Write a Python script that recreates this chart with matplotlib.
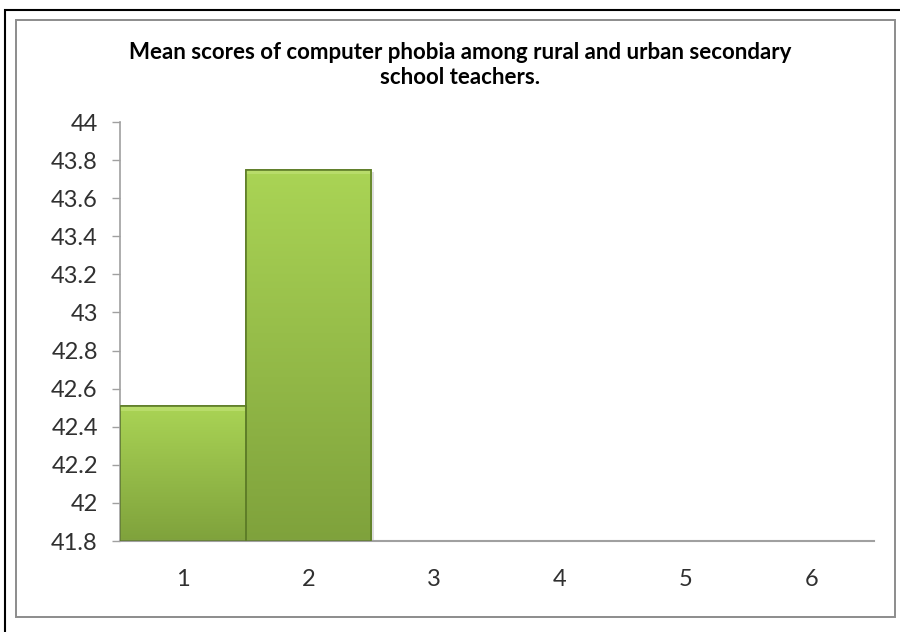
import matplotlib
matplotlib.use("Agg")
import matplotlib.pyplot as plt
import matplotlib.patches as mpatches
from matplotlib.colors import LinearSegmentedColormap
import numpy as np

categories = [1, 2, 3, 4, 5, 6]
values = [42.51, 43.75, None, None, None, None]
yticks = [41.8, 42, 42.2, 42.4, 42.6, 42.8, 43, 43.2, 43.4, 43.6, 43.8, 44]
ytick_labels = ["41.8", "42", "42.2", "42.4", "42.6", "42.8", "43", "43.2", "43.4", "43.6", "43.8", "44"]
title = "Mean scores of computer phobia among rural and urban secondary\nschool teachers."

plt.rcParams['font.family'] = ['Lato', 'DejaVu Sans']

fig = plt.figure(figsize=(9, 6.32), dpi=100)
fig.patch.set_facecolor('white')

# outer black frame and inner grey chart-area frame
fig.patches.append(mpatches.Rectangle((5/900, -0.01), 900/900, 1 - 10/632 + 0.01,
                                      transform=fig.transFigure, fill=False,
                                      edgecolor='black', linewidth=1.5, zorder=0))
fig.patches.append(mpatches.Rectangle((16/900, 1 - 617/632), (895 - 16)/900, (617 - 20)/632,
                                      transform=fig.transFigure, fill=False,
                                      edgecolor='#8c8c8c', linewidth=1.4, zorder=0))

ax = fig.add_axes([120/900, 1 - 541/632, (874 - 120)/900, (541 - 122)/632])

xs = [c for c, v in zip(categories, values) if v is not None]
hs = [v - 41.8 for v in values if v is not None]
bars = ax.bar(xs, hs, bottom=41.8, width=1.0, color='#93b946',
              edgecolor='#5e7d28', linewidth=1.2, zorder=2)

# vertical gradient inside each bar
grad = np.linspace(0, 1, 256).reshape(-1, 1)
cmap = LinearSegmentedColormap.from_list('g', ['#7fa23c', '#aad455'])
for b in bars:
    x0, y0 = b.get_x(), b.get_y()
    w, h = b.get_width(), b.get_height()
    # soft shadow on the right
    ax.add_patch(mpatches.Rectangle((x0 + 0.02, y0), w, h - 0.01,
                                    facecolor='#c8c8c8', edgecolor='none', alpha=0.6, zorder=1.5))
    im = ax.imshow(grad, extent=[x0, x0 + w, y0, y0 + h], origin='lower',
                   cmap=cmap, aspect='auto', zorder=2.5)
    im.set_clip_path(b)
    # light top bevel
    ax.add_patch(mpatches.Rectangle((x0, y0 + h - 0.025), w, 0.025,
                                    facecolor='#b8dc6a', edgecolor='none', zorder=2.6))
    ax.add_patch(mpatches.Rectangle((x0, y0), w, h, fill=False,
                                    edgecolor='#5e7d28', linewidth=1.2, zorder=2.7))

ax.set_xlim(0.5, 6.5)
ax.set_ylim(41.8, 44)
ax.set_xticks(categories)
ax.set_xticklabels([str(c) for c in categories])
ax.set_yticks(yticks)
ax.set_yticklabels(ytick_labels)

for s in ['top', 'right']:
    ax.spines[s].set_visible(False)
ax.spines['left'].set_color('#a0a0a0')
ax.spines['bottom'].set_color('#a0a0a0')
ax.spines['left'].set_linewidth(1.2)
ax.spines['bottom'].set_linewidth(1.5)

ax.tick_params(axis='y', length=6, width=1, color='#a0a0a0', labelsize=17,
               labelcolor='#303030', pad=10)
ax.tick_params(axis='x', length=0, labelsize=17, labelcolor='#303030', pad=20)

fig.text(460/900, 1 - 65/632, title, ha='center', va='center', fontsize=16,
         fontweight='bold', linespacing=1.2)

fig.savefig('out.png', dpi=100)
